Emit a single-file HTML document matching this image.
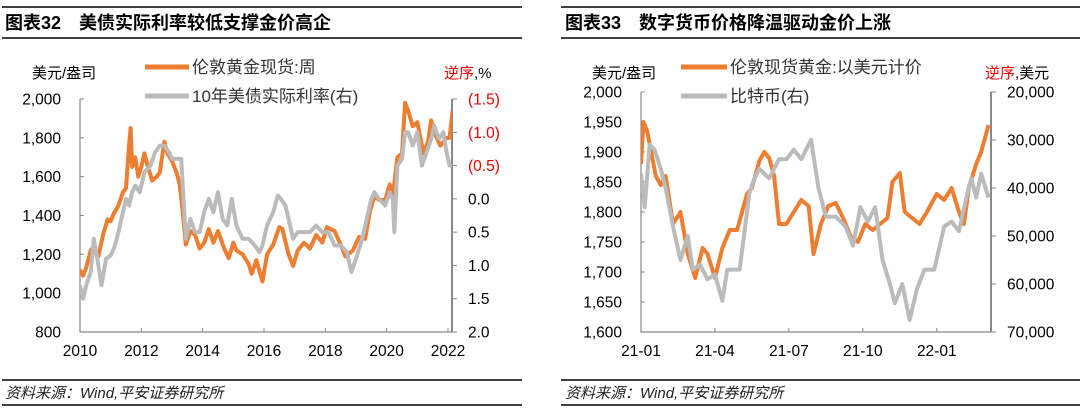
<!DOCTYPE html>
<html><head><meta charset="utf-8">
<style>
body{margin:0;background:#fff;}
svg{display:block;font-family:"Liberation Sans","Noto Sans CJK SC",sans-serif;}
</style></head>
<body>
<svg id="s" width="1080" height="412">
<g>
<line x1="2" y1="7" x2="522" y2="7" stroke="#000" stroke-width="1.5"/>
<line x1="2" y1="38" x2="522" y2="38" stroke="#000" stroke-width="1.5"/>
<text x="5" y="29" font-size="18" font-weight="bold">图表32　美债实际利率较低支撑金价高企</text>
<text x="32" y="78" font-size="15">美元/盎司</text>
<text x="444" y="78" font-size="15" fill="#e00">逆序<tspan fill="#000">,%</tspan></text>
<line x1="145" y1="67" x2="189" y2="67" stroke="#ED7D31" stroke-width="5"/>
<text x="192" y="73" font-size="17" fill="#333">伦敦黄金现货:周</text>
<line x1="145" y1="96" x2="189" y2="96" stroke="#BBBBBB" stroke-width="5"/>
<text x="192" y="102" font-size="17" fill="#333">10年美债实际利率(右)</text>
<line x1="2" y1="380" x2="522" y2="380" stroke="#000" stroke-width="1.5"/>
<line x1="2" y1="405" x2="522" y2="405" stroke="#000" stroke-width="1.5"/>
<text x="5" y="398" font-size="15" font-style="italic" fill="#222">资料来源：Wind,平安证券研究所</text>
<g id="L"></g>
</g>
<g>
<line x1="561" y1="7" x2="1080" y2="7" stroke="#000" stroke-width="1.5"/>
<line x1="561" y1="38" x2="1080" y2="38" stroke="#000" stroke-width="1.5"/>
<text x="565" y="29" font-size="18" font-weight="bold">图表33　数字货币价格降温驱动金价上涨</text>
<text x="592" y="78" font-size="15">美元/盎司</text>
<text x="985" y="78" font-size="15" fill="#e00">逆序<tspan fill="#000">,美元</tspan></text>
<line x1="681" y1="67" x2="727" y2="67" stroke="#ED7D31" stroke-width="5"/>
<text x="730" y="73" font-size="17" fill="#333">伦敦现货黄金:以美元计价</text>
<line x1="681" y1="96" x2="727" y2="96" stroke="#BBBBBB" stroke-width="5"/>
<text x="730" y="102" font-size="17" fill="#333">比特币(右)</text>
<line x1="561" y1="380" x2="1080" y2="380" stroke="#000" stroke-width="1.5"/>
<line x1="561" y1="405" x2="1080" y2="405" stroke="#000" stroke-width="1.5"/>
<text x="565" y="398" font-size="15" font-style="italic" fill="#222">资料来源：Wind,平安证券研究所</text>
<g id="R"></g>
</g>
</svg>
<script>
// Left chart data (fractional year)
const goldT=[2010.0,2010.1,2010.2,2010.35,2010.45,2010.6,2010.75,2010.9,2011.0,2011.1,2011.25,2011.4,2011.5,2011.6,2011.65,2011.7,2011.8,2011.9,2012.0,2012.1,2012.2,2012.35,2012.5,2012.6,2012.75,2012.85,2013.0,2013.15,2013.25,2013.35,2013.45,2013.6,2013.75,2013.9,2014.05,2014.2,2014.35,2014.5,2014.7,2014.85,2015.0,2015.1,2015.3,2015.5,2015.6,2015.75,2015.95,2016.1,2016.3,2016.5,2016.6,2016.8,2016.95,2017.1,2017.3,2017.5,2017.7,2017.9,2018.05,2018.3,2018.5,2018.65,2018.9,2019.1,2019.3,2019.45,2019.6,2019.75,2019.95,2020.1,2020.2,2020.35,2020.5,2020.6,2020.7,2020.85,2021.0,2021.2,2021.35,2021.45,2021.6,2021.75,2021.95,2022.05,2022.15];
const goldV=[1120,1090,1130,1220,1240,1190,1300,1380,1370,1410,1450,1520,1540,1760,1850,1650,1700,1600,1650,1720,1660,1580,1600,1620,1780,1720,1680,1620,1560,1420,1250,1320,1300,1230,1260,1330,1260,1320,1230,1180,1260,1220,1200,1150,1100,1170,1060,1200,1250,1340,1330,1200,1140,1220,1260,1230,1300,1260,1340,1320,1250,1190,1220,1290,1280,1420,1500,1480,1480,1560,1500,1700,1720,1980,1940,1860,1880,1720,1780,1890,1810,1760,1800,1800,1940];
const rateT=[2010.0,2010.1,2010.2,2010.35,2010.45,2010.6,2010.7,2010.85,2011.0,2011.1,2011.2,2011.35,2011.5,2011.6,2011.7,2011.8,2011.95,2012.1,2012.3,2012.45,2012.6,2012.75,2012.9,2013.0,2013.15,2013.3,2013.4,2013.45,2013.6,2013.75,2013.9,2014.05,2014.2,2014.35,2014.5,2014.65,2014.8,2014.95,2015.1,2015.3,2015.5,2015.7,2015.85,2015.95,2016.1,2016.3,2016.45,2016.55,2016.7,2016.85,2016.95,2017.1,2017.3,2017.5,2017.7,2017.9,2018.1,2018.3,2018.5,2018.7,2018.85,2019.0,2019.2,2019.35,2019.5,2019.6,2019.75,2019.95,2020.1,2020.2,2020.25,2020.35,2020.5,2020.6,2020.7,2020.85,2021.0,2021.15,2021.3,2021.45,2021.55,2021.7,2021.85,2021.95,2022.05,2022.15];
const rateV=[1.3,1.5,1.3,1.1,0.6,1.0,1.3,0.9,0.85,0.75,0.6,0.3,0.0,0.1,-0.1,-0.2,-0.1,-0.4,-0.5,-0.7,-0.8,-0.8,-0.7,-0.6,-0.6,-0.6,0.2,0.6,0.3,0.5,0.5,0.2,0.0,0.2,-0.1,0.3,0.4,0.0,0.4,0.6,0.6,0.7,0.8,0.7,0.4,0.2,-0.05,0.0,0.1,0.4,0.6,0.5,0.5,0.5,0.4,0.5,0.5,0.7,0.7,0.8,1.1,0.9,0.6,0.3,0.0,-0.1,0.0,0.1,-0.1,0.0,0.5,-0.5,-0.6,-1.0,-1.0,-0.8,-1.0,-0.5,-0.7,-0.9,-1.1,-0.9,-1.0,-0.7,-0.5,-0.5];
const leftXTicks=[2010,2012,2014,2016,2018,2020,2022];
const leftYTicks=[800,1000,1200,1400,1600,1800,2000];
const leftY2Ticks=[-1.5,-1.0,-0.5,0,0.5,1.0,1.5,2.0];
const leftY2Labels=["(1.5)","(1.0)","(0.5)","0.0","0.5","1.0","1.5","2.0"];
// Right chart data (months since 2021-01)
const g2T=[0,0.1,0.25,0.6,0.8,1.0,1.3,1.6,1.9,2.2,2.5,2.7,3.0,3.3,3.6,3.9,4.3,4.5,4.8,5.0,5.2,5.4,5.6,5.9,6.2,6.5,6.8,7.0,7.3,7.6,7.9,8.2,8.5,8.8,9.1,9.4,9.7,10.0,10.2,10.5,10.7,11.0,11.3,11.6,12.0,12.3,12.6,12.9,13.1,13.3,13.6,13.8,14.1];
const g2V=[1880,1950,1935,1860,1845,1860,1780,1800,1730,1690,1740,1730,1690,1740,1770,1770,1830,1840,1885,1900,1890,1860,1780,1780,1800,1820,1810,1730,1780,1810,1815,1790,1760,1750,1780,1770,1780,1790,1850,1865,1800,1790,1780,1800,1830,1820,1840,1800,1780,1840,1880,1900,1945];
const btcT=[0,0.15,0.35,0.55,0.8,1.0,1.3,1.6,1.9,2.1,2.4,2.7,3.0,3.3,3.5,3.7,4.0,4.2,4.4,4.6,4.8,5.2,5.6,5.9,6.2,6.5,6.9,7.2,7.5,7.9,8.3,8.6,8.9,9.2,9.5,9.8,10.1,10.3,10.6,10.9,11.2,11.5,11.9,12.3,12.6,12.9,13.2,13.4,13.6,13.8,14.1];
const btcV=[37000,44000,31000,32000,36000,40000,48000,55000,50000,57000,56000,59000,58000,63500,57000,57000,57000,49000,41000,38000,36000,38000,34000,34000,32000,34000,30000,40000,46000,46000,48000,52000,44000,47000,44000,55000,60000,64000,60000,67500,61000,57000,57000,48000,47000,49000,42000,38000,42000,37000,42000];
const rightXTicks=[0,3,6,9,12];
const rightXLabels=["21-01","21-04","21-07","21-10","22-01"];
const rightYTicks=[1600,1650,1700,1750,1800,1850,1900,1950,2000];
const rightY2Ticks=[20000,30000,40000,50000,60000,70000];

const NS="http://www.w3.org/2000/svg";
function mk(p,tag,a){const e=document.createElementNS(NS,tag);for(const k in a)e.setAttribute(k,a[k]);p.appendChild(e);return e;}
function fmt(v){return v.toLocaleString('en-US');}

function chart(g,o){
  const sx=v=>o.x0+(v-o.d0)/(o.d1-o.d0)*(o.x1-o.x0);
  const sy=v=>o.yb+(v-o.l0)/(o.l1-o.l0)*(o.yt-o.yb);
  const sy2=v=>o.yt+(v-o.r0)/(o.r1-o.r0)*(o.yb-o.yt);
  let ax=mk(g,'path',{d:`M${o.x0},${o.yt}V${o.yb}H${o.x1}`,stroke:'#888',fill:'none','stroke-width':1.2});
  
  let ax2=mk(g,'line',{x1:o.x1,y1:o.yt,x2:o.x1,y2:o.yb,stroke:'#888','stroke-width':2});
  
  o.xt.forEach((v,i)=>{const x=sx(v);mk(g,'line',{x1:x,y1:o.yb,x2:x,y2:o.yb-4,stroke:'#888'});
    const t=mk(g,'text',{x:x,y:o.yb+24,'font-size':15.5,'text-anchor':'middle'});t.textContent=o.xl[i];
    });
  o.yt1.forEach(v=>{const y=sy(v);mk(g,'line',{x1:o.x0,y1:y,x2:o.x0+4,y2:y,stroke:'#888'});
    const t=mk(g,'text',{x:o.x0-19,y:y+5.5,'font-size':15.5,'text-anchor':'end'});t.textContent=fmt(v);
    });
  o.yt2.forEach((v,i)=>{const y=sy2(v);mk(g,'line',{x1:o.x1,y1:y,x2:o.x1+5,y2:y,stroke:'#888'});
    const t=mk(g,'text',{x:o.x1+16,y:y+5.5,'font-size':15.5,fill:(o.red&&o.red(v))?'#e00':'#000'});t.textContent=o.yl2[i];
    });
  const cp=mk(g,'clipPath',{id:o.id+'c'});mk(cp,'rect',{x:o.x0,y:o.yt,width:o.x1-o.x0,height:o.yb-o.yt});
  const l1=mk(g,'polyline',{points:o.aT.map((t,i)=>sx(t)+','+sy(o.aV[i])).join(' '),fill:'none',stroke:'#ED7D31','stroke-width':4,'stroke-linejoin':'round','clip-path':`url(#${o.id}c)`});
  
  const l2=mk(g,'polyline',{points:o.bT.map((t,i)=>sx(t)+','+sy2(o.bV[i])).join(' '),fill:'none',stroke:'#BBBBBB','stroke-width':4,'stroke-linejoin':'round','clip-path':`url(#${o.id}c)`});
  
}
chart(document.getElementById('L'),{id:'L',x0:80,x1:452,d0:2010,d1:2022.13,yt:99,yb:332,l0:800,l1:2000,r0:-1.5,r1:2.0,
  xt:leftXTicks,xl:leftXTicks.map(String),yt1:leftYTicks,yt2:leftY2Ticks,yl2:leftY2Labels,red:v=>v<0,
  aT:goldT,aV:goldV,bT:rateT,bV:rateV,n1:'gold-price-line',n2:'real-rate-line'});
chart(document.getElementById('R'),{id:'R',x0:641,x1:991,d0:0,d1:14.2,yt:92,yb:332,l0:1600,l1:2000,r0:20000,r1:70000,
  xt:rightXTicks,xl:rightXLabels,yt1:rightYTicks,yt2:rightY2Ticks,yl2:rightY2Ticks.map(fmt),
  aT:g2T,aV:g2V,bT:btcT,bV:btcV,n1:'gold-price-line-2',n2:'bitcoin-line'});
</script>
</body></html>
